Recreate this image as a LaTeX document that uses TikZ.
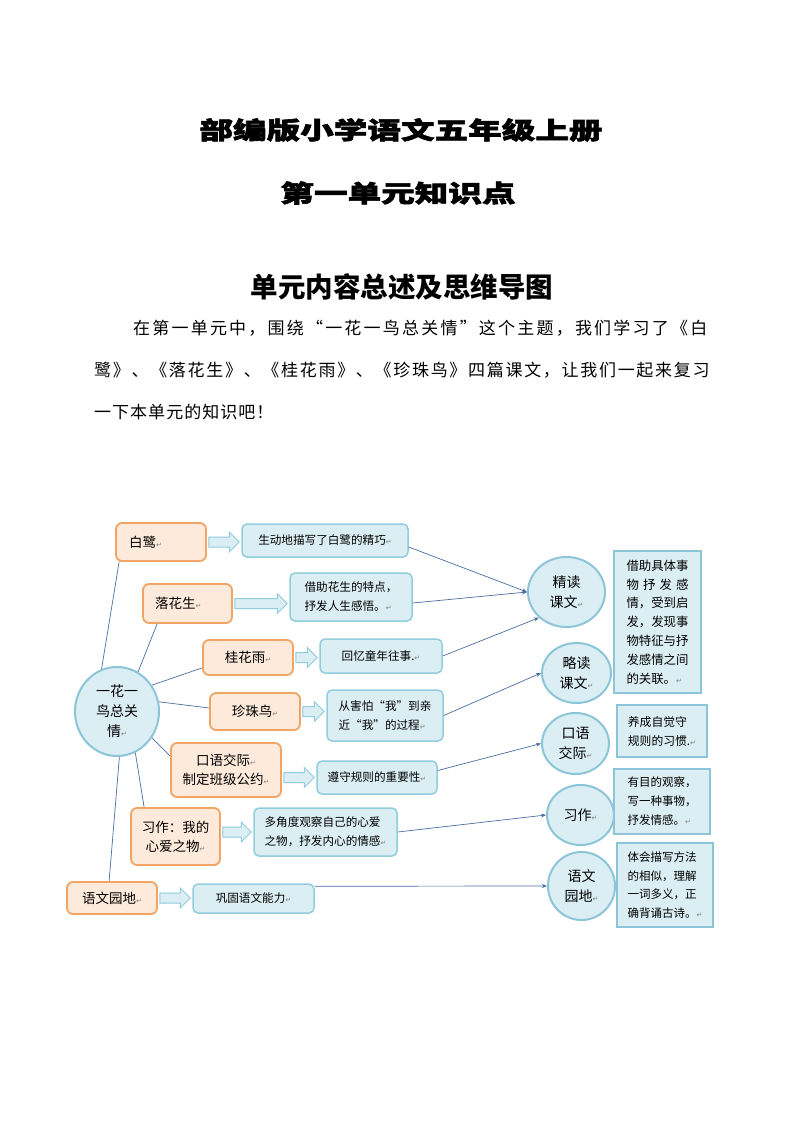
\documentclass[tikz,border=0pt]{standalone}
\usepackage{fontspec}
\usetikzlibrary{calc,arrows.meta,shapes.geometric}
\newfontfamily\cjk{Noto Sans CJK SC}
\newfontfamily\cjkblack[FakeStretch=1.4,FakeBold=2.5]{Noto Sans CJK SC Black}
\newfontfamily\djv{DejaVu Sans}
\definecolor{obord}{HTML}{F0A564}
\definecolor{ofill}{HTML}{FDEADA}
\definecolor{bbord}{HTML}{92CDDC}
\definecolor{bfill}{HTML}{DBEEF4}
\definecolor{cbord}{HTML}{8DC5D8}
\definecolor{lcol}{HTML}{4A6FA0}
\newcommand\rt{{\djv\fontsize{7}{7}\selectfont\textcolor{gray}{↵}}}
\newcommand\bodyfont{\cjk\fontsize{17}{17}\selectfont}
\newcommand\blockarrow[3]{%
  \path[blockarr] let \p1=(#1.east), \p2=(#2.west), \p3=(#3.center) in
  (\x1+2pt,\y3+5pt) -- (\x2-12pt,\y3+5pt) -- (\x2-12pt,\y3+10pt) -- (\x2-2pt,\y3)
  -- (\x2-12pt,\y3-10pt) -- (\x2-12pt,\y3-5pt) -- (\x1+2pt,\y3-5pt) -- cycle;}
\tikzset{
  obox/.style={rectangle, draw=obord, fill=ofill, line width=1.8pt, rounded corners=6pt,
    inner sep=0pt, font=\cjk\fontsize{13.5}{19}\selectfont, align=center},
  bbox/.style={rectangle, draw=bbord, fill=bfill, line width=1.5pt, rounded corners=5pt,
    inner sep=0pt, font=\cjk\fontsize{11.6}{19}\selectfont, align=left},
  circ/.style={ellipse, draw=cbord, fill=bfill, line width=2pt, inner sep=0pt,
    font=\cjk\fontsize{14}{20}\selectfont, align=center},
  rbox/.style={rectangle, draw=cbord, fill=bfill, line width=2.5pt, inner sep=0pt,
    font=\cjk\fontsize{11.8}{19}\selectfont, align=left},
  link/.style={draw=lcol, line width=0.7pt},
  arr/.style={link, -{Stealth[length=5pt,width=4pt]}},
  blockarr/.style={draw=bbord, fill=bfill, line width=1pt},
  title/.style={inner sep=0pt, font=\cjkblack\fontsize{24}{24}\selectfont},
  bodyline/.style={inner sep=0pt, anchor=base west, font=\bodyfont}
}
\begin{document}
\begin{tikzpicture}[x=1pt,y=-1pt]
\fill[white] (0,0) rectangle (794,1123);
\useasboundingbox (0,0) rectangle (794,1123);

% titles
\node[title] (t1) at (401,130) {部编版小学语文五年级上册};
\node[title] (t2) at (398,193) {第一单元知识点};
\node[inner sep=0pt, font=\cjk\bfseries\fontsize{27.5}{27.5}\selectfont] (t3) at (402,287) {单元内容总述及思维导图};

% paragraph
\node[bodyline] (p1) at (133,334) {\addfontfeature{LetterSpace=13}在第一单元中，围绕“一花一鸟总关情”这个主题，我们学习了《白};
\node[bodyline] (p2) at (94,376) {\addfontfeature{LetterSpace=10}鹭》、《落花生》、《桂花雨》、《珍珠鸟》四篇课文，让我们一起来复习};
\node[bodyline] (p3) at (94,418) {\addfontfeature{LetterSpace=6}一下本单元的知识吧！};

% center circle
\node[circ, minimum width=84pt, minimum height=89pt] (c0) at (117,711.5) {一花一\\鸟总关\\情\rt};

% orange boxes
\node[obox, minimum width=90pt, minimum height=38pt, text width=64pt, align=left] (bai) at (161,542) {白鹭\rt};
\node[obox, minimum width=89pt, minimum height=39pt, text width=65pt, align=left] (luo) at (187.5,603.5) {落花生\rt};
\node[obox, minimum width=90pt, minimum height=35pt] (gui) at (248,657.5) {桂花雨\rt};
\node[obox, minimum width=90pt, minimum height=37pt] (zhen) at (255,711.5) {珍珠鸟\rt};
\node[obox, minimum width=110pt, minimum height=54pt] (kou) at (226,770) {口语交际\rt\\制定班级公约\rt};
\node[obox, minimum width=89pt, minimum height=57pt] (xi) at (175.5,836.5) {习作：我的\\心爱之物\rt};
\node[obox, minimum width=90pt, minimum height=32pt] (yu) at (112,898) {语文园地\rt};

% blue boxes
\node[bbox, minimum width=166pt, minimum height=33pt] (b1) at (325,540.5) {生动地描写了白鹭的精巧\rt};
\node[bbox, minimum width=122pt, minimum height=48pt] (b2) at (351,597) {借助花生的特点，\\抒发人生感悟。\rt};
\node[bbox, minimum width=122pt, minimum height=34pt] (b3) at (381,656) {回忆童年往事.\rt};
\node[bbox, minimum width=116pt, minimum height=51pt] (b4) at (385,715.5) {从害怕“我”到亲\\近“我”的过程\rt};
\node[bbox, minimum width=120pt, minimum height=33pt] (b5) at (377,777.5) {遵守规则的重要性\rt};
\node[bbox, minimum width=143pt, minimum height=48pt] (b6) at (325.5,832) {多角度观察自己的心爱\\之物，抒发内心的情感\rt};
\node[bbox, minimum width=121pt, minimum height=29pt] (b7) at (253.5,898.5) {巩固语文能力\rt};

% right circles
\node[circ, minimum width=77pt, minimum height=70pt] (c1) at (566.5,592) {精读\\课文\rt};
\node[circ, minimum width=69pt, minimum height=60pt] (c2) at (576.5,673) {略读\\课文\rt};
\node[circ, minimum width=67pt, minimum height=61pt] (c3) at (575.5,743.5) {口语\\交际\rt};
\node[circ, minimum width=67pt, minimum height=60pt] (c4) at (580.5,815) {习作\rt};
\node[circ, minimum width=67pt, minimum height=68pt] (c5) at (581.5,886) {语文\\园地\rt};

% right boxes
\node[rbox, minimum width=87pt, minimum height=142pt, font=\cjk\fontsize{12.4}{18.8}\selectfont] (r1) at (657.5,622)
  {借助具体事\\\makebox[62pt][s]{物\hfil 抒\hfil 发\hfil 感}\\情，受到启\\发，发现事\\物特征与抒\\发感情之间\\的关联。\rt};
\node[rbox, minimum width=90pt, minimum height=52pt] (r2) at (662,731) {养成自觉守\\规则的习惯.\rt};
\node[rbox, minimum width=96pt, minimum height=65pt, font=\cjk\fontsize{11.5}{19}\selectfont] (r3) at (662,801.5) {有目的观察，\\写一种事物，\\抒发情感。\rt};
\node[rbox, minimum width=96pt, minimum height=84pt, font=\cjk\fontsize{11.5}{18.7}\selectfont] (r4) at (665,885) {体会描写方法\\的相似，理解\\一词多义，正\\确背诵古诗。\rt};

% block arrows
\blockarrow{bai}{b1}{bai}
\blockarrow{luo}{b2}{luo}
\blockarrow{gui}{b3}{gui}
\blockarrow{zhen}{b4}{zhen}
\blockarrow{kou}{b5}{b5}
\blockarrow{xi}{b6}{b6}
\blockarrow{yu}{b7}{yu}

% links from centre
\draw[link] (c0.110) -- ($(bai.south west)+(4pt,0pt)$);
\draw[link] (c0.62) -- ($(luo.south west)+(15pt,0pt)$);
\draw[link] (c0.37) -- ($(gui.south west)+(0pt,8pt)$);
\draw[link] (c0.13) -- ($(zhen.west)+(0pt,3.5pt)$);
\draw[link] (c0.-37) -- ($(kou.north west)+(0pt,-14pt)$);
\draw[link] (c0.-66) -- ($(xi.north west)+(14pt,0pt)$);
\draw[link] (c0.-87) -- ($(yu.north west)+(43pt,0pt)$);

% arrows to circles
\draw[arr] ($(b1.east)+(0pt,-6.5pt)$) -- (c1.west);
\draw[arr] ($(b2.east)+(0pt,-6pt)$) -- (c1.west);
\draw[arr] (b3.east) -- (c1.223);
\draw[arr] (b4.east) -- (c2.west);
\draw[arr] ($(b5.east)+(0pt,7pt)$) -- (c3.west);
\draw[arr] (b6.east) -- (c4.west);
\draw[arr] ($(b7.north east)+(0pt,-3pt)$) -- (c5.west);
\end{tikzpicture}
\end{document}
